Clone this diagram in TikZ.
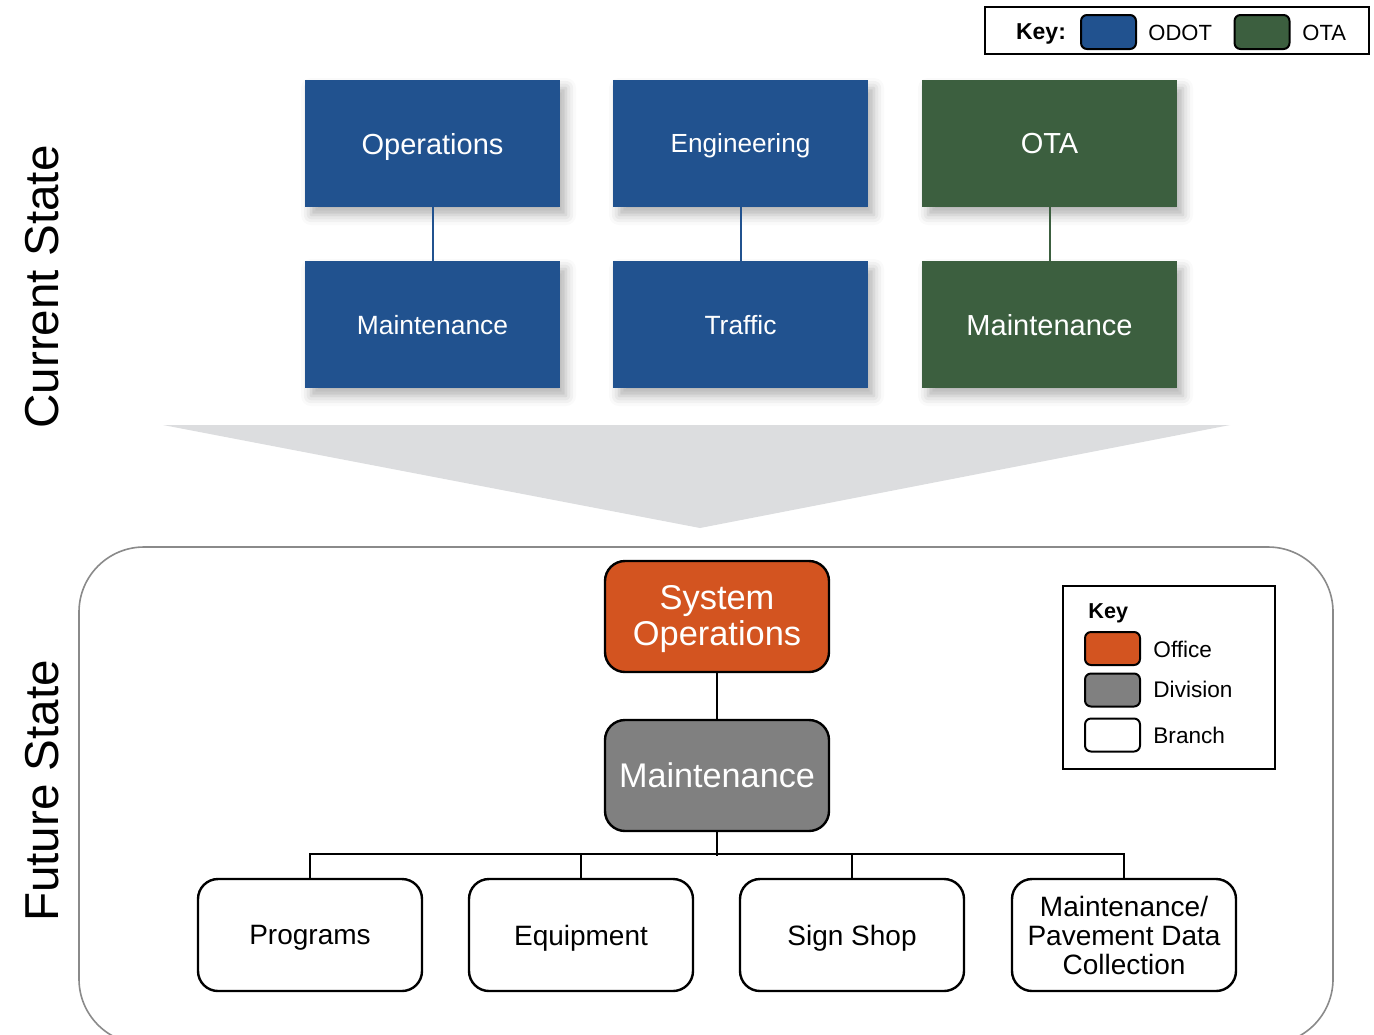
\documentclass[tikz,border=0pt]{standalone}
\usepackage{fontspec}
\setmainfont{Liberation Sans}
\usetikzlibrary{shadows.blur}
\definecolor{odot}{HTML}{21528F}
\definecolor{ota}{HTML}{3C5F3F}
\definecolor{office}{HTML}{D35420}
\definecolor{division}{HTML}{808080}
\definecolor{arrowgray}{HTML}{DCDDDF}
\definecolor{framegray}{HTML}{8A8A8A}
\begin{document}
\begin{tikzpicture}[x=0.5pt,y=-0.5pt,
  topbox/.style={rectangle, minimum width=127.5pt, minimum height=63.5pt, inner sep=0pt, text=white, text depth=0pt,
    blur shadow={shadow xshift=3pt, shadow yshift=-4pt, shadow blur radius=5pt, shadow opacity=30}},
  fbox/.style={rectangle, draw=black, line width=1.2pt, rounded corners=10pt, minimum width=112pt,
    minimum height=55.5pt, inner sep=0pt, align=center},
  bbox/.style={fbox, fill=white, minimum height=56pt, font=\fontsize{14}{14.5}\selectfont},
  swatch/.style={rectangle, draw=black, line width=1pt, rounded corners=3pt, minimum width=27.5pt,
    minimum height=17pt, inner sep=0pt},
  lswatch/.style={swatch, minimum height=16.5pt},
  conn/.style={line width=1.2pt, draw=black},
  keytxt/.style={anchor=west, inner sep=0pt, font=\fontsize{11}{13}\selectfont},
  lkeytxt/.style={anchor=west, inner sep=0pt, font=\fontsize{11.3}{13}\selectfont},
  side/.style={rotate=90, inner sep=0pt, font=\fontsize{23.8}{26}\selectfont}
]
\useasboundingbox (0,0) rectangle (1374,1034);
\clip (0,0) rectangle (1374,1034);

% top key
\node[draw=black, line width=1pt, minimum width=192pt, minimum height=23.5pt, inner sep=0pt] (keybox) at (1177,30.5) {};
\node[inner sep=0pt, text depth=0pt, font=\bfseries\fontsize{11.5}{13}\selectfont] (keylbl) at (1041,32) {Key:};
\node[swatch, fill=odot] (kodot) at (1108.5,32) {};
\node[keytxt] (todot) at (1148,33) {ODOT};
\node[swatch, fill=ota] (kota) at (1262,32) {};
\node[keytxt] (tota) at (1302,33) {OTA};

% side labels
\node[side] (cur) at (42,287) {Current State};
\node[side] (fut) at (42,791) {Future State};

% current state boxes
\node[topbox, fill=odot, font=\fontsize{14.5}{17}\selectfont] (ops) at (432.5,143.5) {Operations};
\node[topbox, fill=odot, font=\fontsize{13.1}{16}\selectfont] (eng) at (740.5,143.5) {Engineering};
\node[topbox, fill=ota, font=\fontsize{14.5}{17}\selectfont] (otab) at (1049.5,143.5) {OTA};
\node[topbox, fill=odot, font=\fontsize{13.2}{16}\selectfont] (mnt1) at (432.5,324.5) {Maintenance};
\node[topbox, fill=odot, font=\fontsize{13.2}{16}\selectfont] (traf) at (740.5,324.5) {Traffic};
\node[topbox, fill=ota, font=\fontsize{14.5}{17}\selectfont] (mnt2) at (1049.5,324.5) {Maintenance};
\draw[odot, line width=1pt] (ops.south) -- (mnt1.north);
\draw[odot, line width=1pt] (eng.south) -- (traf.north);
\draw[ota, line width=1pt] (otab.south) -- (mnt2.north);

% big arrow
\fill[arrowgray] (163,425) -- (1230,425) -- (700,528) -- cycle;

% future state frame
\node[draw=framegray, line width=0.8pt, rounded corners=32.5pt, minimum width=627pt, minimum height=248.5pt, inner sep=0pt] (future) at (706,795.5) {};

% future state boxes
\node[fbox, fill=office] (sysops) at (717,616.5) {};
\node[inner sep=0pt, align=center, text=white, font=\fontsize{17.2}{18}\selectfont] (sysopst) at (717,619.5) {System\\Operations};
\node[fbox, fill=division, text=white, text depth=0pt, font=\fontsize{17.1}{18}\selectfont] (maint) at (717,775.5) {Maintenance};
\node[bbox, text depth=0pt] (prog) at (310,935) {Programs};
\node[bbox, text depth=0pt] (equip) at (581,935) {Equipment};
\node[bbox, text depth=0pt] (sign) at (852,935) {Sign Shop};
\node[bbox] (mpdc) at (1124,935) {Maintenance/\\Pavement Data\\Collection};

\draw[conn] (sysops.south) -- (maint.north);
\draw[conn] (maint.south) -- ++(0,24);
\draw[conn] (prog.north) -- ++(0,-24) -| (mpdc.north);
\draw[conn] (equip.north) -- ++(0,-24);
\draw[conn] (sign.north) -- ++(0,-24);

% lower legend
\node[draw=black, line width=1pt, minimum width=106pt, minimum height=91.5pt, inner sep=0pt] (lkey) at (1169,677.5) {};
\node[anchor=west, inner sep=0pt, text depth=0pt, font=\bfseries\fontsize{10.8}{13}\selectfont] (lkeylbl) at (1088,611) {Key};
\node[lswatch, fill=office] (soff) at (1112.5,648.5) {};
\node[lkeytxt] (toff) at (1153,649) {Office};
\node[lswatch, fill=division] (sdiv) at (1112.5,690) {};
\node[lkeytxt] (tdiv) at (1153,689.5) {Division};
\node[lswatch, fill=white] (sbr) at (1112.5,735) {};
\node[lkeytxt] (tbr) at (1153,735.5) {Branch};
\end{tikzpicture}
\end{document}
